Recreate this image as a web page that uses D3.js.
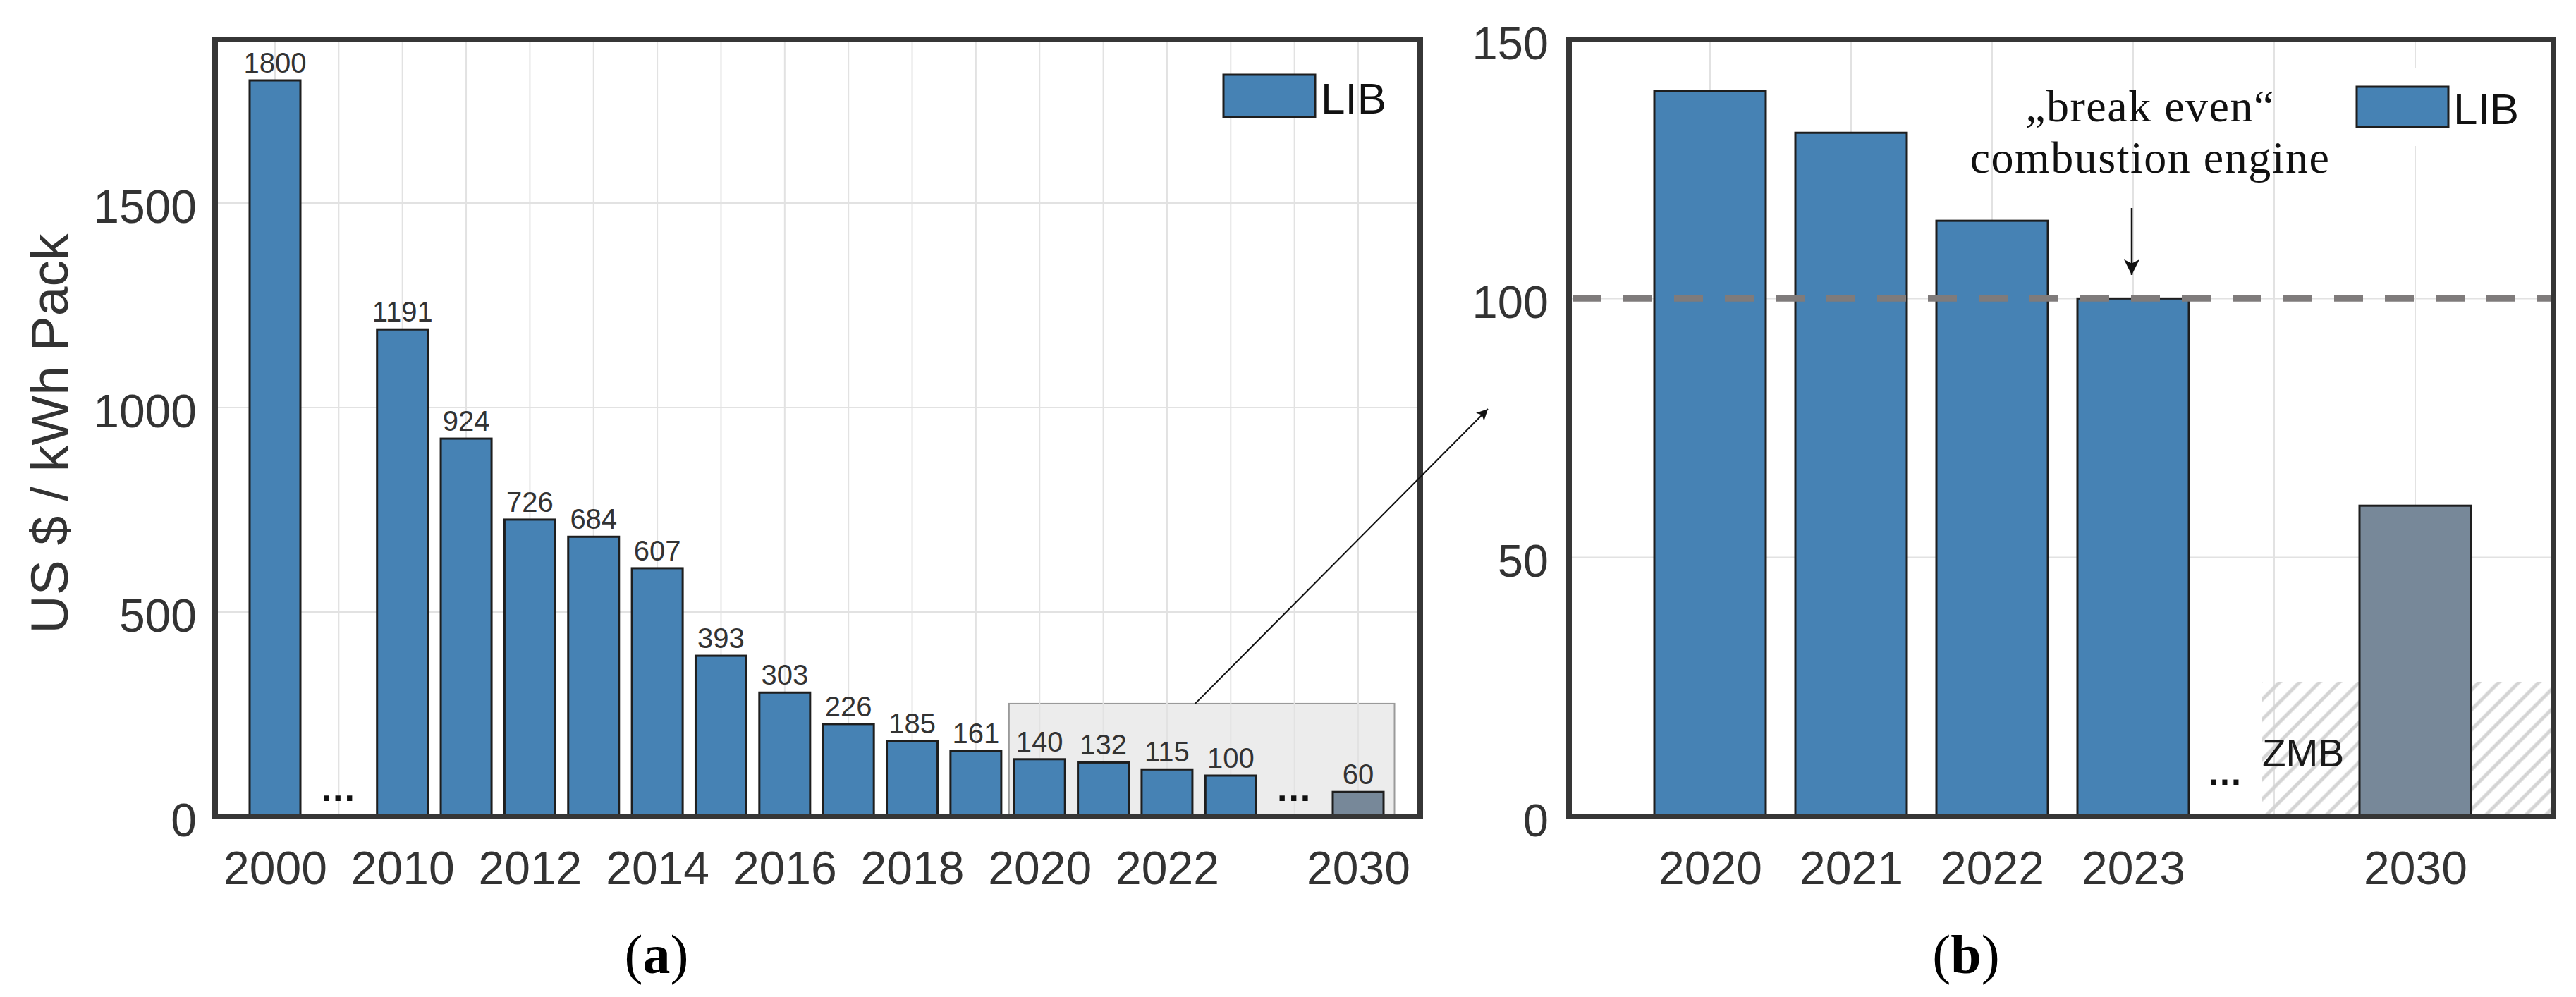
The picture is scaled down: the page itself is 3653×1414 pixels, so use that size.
<!DOCTYPE html>
<html>
<head>
<meta charset="utf-8">
<script src="https://cdn.jsdelivr.net/npm/d3@7"></script>
<style>
  html, body { margin: 0; padding: 0; background: #fff; }
  svg { display: block; }
</style>
</head>
<body>
<svg id="chart" width="3653" height="1414"></svg>
<script>
// ---------------- DATA ----------------
const leftCategories = ["2000", "gapA", "2010", "2011", "2012", "2013", "2014", "2015", "2016", "2017", "2018", "2019", "2020", "2021", "2022", "2023", "gapB", "2030"];
const leftValues     = [1800, null, 1191, 924, 726, 684, 607, 393, 303, 226, 185, 161, 140, 132, 115, 100, null, 60];
const leftTickLabels = ["2000", "2010", "2012", "2014", "2016", "2018", "2020", "2022", "2030"];
const leftYTicks     = [0, 500, 1000, 1500];
const leftYMax       = 1900;

const rightCategories = ["2020", "2021", "2022", "2023", "gap", "2030"];
const rightValues     = [140, 132, 115, 100, null, 60];
const rightTickLabels = ["2020", "2021", "2022", "2023", "2030"];
const rightYTicks     = [0, 50, 100, 150];
const rightYMax       = 150;

const projectedYears  = ["2030"];
const breakEvenValue  = 100;
const zoomBoxTop      = 276;   // left-panel highlight box height (value units)
const zmbTop          = 26;    // hatched ZMB band height (value units)
const seriesName      = "LIB";
const yTitle          = "US $ / kWh Pack";

// ---------------- STYLE / LAYOUT ----------------
const C = {
  bar: "#4682b4", proj: "#778899", stroke: "#1e1e1e", frame: "#363636",
  grid: "#e2e2e2", text: "#333333", dash: "#7f7b7b", hatch: "#d4d4d4"
};
const sans = "'Liberation Sans', Arial, Helvetica, sans-serif";
const serif = "'Liberation Serif', 'Times New Roman', serif";
const plotTop = 56, plotBottom = 1158;

const svg = d3.select("#chart");
const defs = svg.append("defs");

// hatch pattern
const pat = defs.append("pattern").attr("id", "hatch")
  .attr("patternUnits", "userSpaceOnUse").attr("width", 20).attr("height", 20)
  .attr("patternTransform", "rotate(45)");
pat.append("line").attr("x1", 10).attr("y1", 0).attr("x2", 10).attr("y2", 20)
  .attr("stroke", C.hatch).attr("stroke-width", 5);

function marker(id, w, h) {
  defs.append("marker").attr("id", id)
    .attr("viewBox", "0 0 10 10").attr("refX", 10).attr("refY", 5)
    .attr("markerUnits", "userSpaceOnUse")
    .attr("markerWidth", w).attr("markerHeight", h).attr("orient", "auto")
    .append("path").attr("d", "M0,0 L10,5 L0,10 L2.5,5 z").attr("fill", "#111");
}
marker("arrowSmall", 20, 16);
marker("arrowBig", 24, 22);

svg.append("rect").attr("width", 3653).attr("height", 1414).attr("fill", "#fff");

const intFmt = d3.format("d");

// ================= LEFT PANEL =================
const L = { x0: 305, x1: 2014 };
const xL = d3.scalePoint().domain(leftCategories).range([390, 1926]);
const yL = d3.scaleLinear().domain([0, leftYMax]).range([plotBottom, plotTop]);
const stepL = xL.step();
const bwL = 72;

const gL = svg.append("g");

// highlight box (drawn under grid)
gL.append("rect")
  .attr("x", xL("2020") - 0.48 * stepL)
  .attr("y", yL(zoomBoxTop))
  .attr("width", (xL("2030") + 0.57 * stepL) - (xL("2020") - 0.48 * stepL))
  .attr("height", yL(0) - yL(zoomBoxTop))
  .attr("fill", "#ececec").attr("stroke", "#9a9a9a").attr("stroke-width", 2);

// grid
gL.selectAll(".vg").data(leftCategories).enter().append("line")
  .attr("x1", d => xL(d)).attr("x2", d => xL(d)).attr("y1", plotTop).attr("y2", plotBottom)
  .attr("stroke", C.grid).attr("stroke-width", 2);
gL.selectAll(".hg").data(leftYTicks.filter(d => d > 0)).enter().append("line")
  .attr("x1", L.x0).attr("x2", L.x1).attr("y1", d => yL(d)).attr("y2", d => yL(d))
  .attr("stroke", C.grid).attr("stroke-width", 2);

// bars
const leftData = leftCategories.map((c, i) => ({ c, v: leftValues[i] })).filter(d => d.v != null);
gL.selectAll(".bar").data(leftData).enter().append("rect")
  .attr("x", d => xL(d.c) - bwL / 2).attr("width", bwL)
  .attr("y", d => yL(d.v)).attr("height", d => yL(0) - yL(d.v))
  .attr("fill", d => projectedYears.includes(d.c) ? C.proj : C.bar)
  .attr("stroke", C.stroke).attr("stroke-width", 3);

// value labels
gL.selectAll(".vl").data(leftData).enter().append("text")
  .attr("x", d => xL(d.c)).attr("y", d => yL(d.v) - 11)
  .attr("text-anchor", "middle").attr("font-family", sans).attr("font-size", 40)
  .attr("fill", C.text).text(d => d.v);

// gap dots
gL.selectAll(".dots").data(leftCategories.filter(c => c.startsWith("gap"))).enter().append("text")
  .attr("x", d => xL(d)).attr("y", 1136).attr("text-anchor", "middle")
  .attr("font-family", sans).attr("font-weight", "bold").attr("font-size", 52)
  .attr("letter-spacing", 2).attr("fill", "#111").text("...");

// frame
gL.append("rect").attr("x", L.x0).attr("y", plotTop).attr("width", L.x1 - L.x0).attr("height", plotBottom - plotTop)
  .attr("fill", "none").attr("stroke", C.frame).attr("stroke-width", 8);

// axes
const axL = gL.append("g").attr("transform", `translate(${L.x0 - 26},0)`)
  .call(d3.axisLeft(yL).tickValues(leftYTicks).tickFormat(intFmt).tickSize(0).tickPadding(0));
axL.select(".domain").remove();
axL.selectAll("text").attr("font-family", sans).attr("font-size", 66).attr("fill", C.text)
  .attr("dy", "0.42em");

const axLB = gL.append("g").attr("transform", `translate(0,${plotBottom})`)
  .call(d3.axisBottom(xL).tickValues(leftTickLabels).tickSize(0).tickPadding(0));
axLB.select(".domain").remove();
axLB.selectAll("text").attr("font-family", sans).attr("font-size", 66).attr("fill", C.text)
  .attr("dy", 0).attr("y", 96);

// y title
gL.append("text").attr("transform", "translate(96,615) rotate(-90)")
  .attr("text-anchor", "middle").attr("font-family", sans).attr("font-size", 75)
  .attr("fill", C.text).text(yTitle);

// legend
gL.append("rect").attr("x", 1735).attr("y", 106).attr("width", 130).attr("height", 60)
  .attr("fill", C.bar).attr("stroke", C.stroke).attr("stroke-width", 3);
gL.append("text").attr("x", 1873).attr("y", 161).attr("font-family", sans).attr("font-size", 62)
  .attr("fill", "#111").text(seriesName);

// (a)
const la = svg.append("text").attr("x", 931).attr("y", 1380).attr("text-anchor", "middle")
  .attr("font-family", serif).attr("font-size", 78).attr("fill", "#000");
la.append("tspan").text("(");
la.append("tspan").attr("font-weight", "bold").text("a");
la.append("tspan").text(")");

// ================= RIGHT PANEL =================
const R = { x0: 2225, x1: 3621 };
const xR = d3.scalePoint().domain(rightCategories).range([2425, 3425]);
const yR = d3.scaleLinear().domain([0, rightYMax]).range([plotBottom, plotTop]);
const stepR = xR.step();
const bwR = 158;

const gR = svg.append("g");

// grid
gR.selectAll(".vg").data(rightCategories).enter().append("line")
  .attr("x1", d => xR(d)).attr("x2", d => xR(d)).attr("y1", plotTop).attr("y2", plotBottom)
  .attr("stroke", C.grid).attr("stroke-width", 2);
gR.selectAll(".hg").data(rightYTicks.filter(d => d > 0 && d < rightYMax)).enter().append("line")
  .attr("x1", R.x0).attr("x2", R.x1).attr("y1", d => yR(d)).attr("y2", d => yR(d))
  .attr("stroke", C.grid).attr("stroke-width", 2.5);

// hatched ZMB band
const hx0 = xR("gap") - 0.085 * stepR;
gR.append("rect").attr("x", hx0).attr("y", yR(zmbTop))
  .attr("width", R.x1 - 4 - hx0).attr("height", yR(0) - yR(zmbTop))
  .attr("fill", "url(#hatch)");

// bars
const rightData = rightCategories.map((c, i) => ({ c, v: rightValues[i] })).filter(d => d.v != null);
gR.selectAll(".bar").data(rightData).enter().append("rect")
  .attr("x", d => xR(d.c) - bwR / 2).attr("width", bwR)
  .attr("y", d => yR(d.v)).attr("height", d => yR(0) - yR(d.v))
  .attr("fill", d => projectedYears.includes(d.c) ? C.proj : C.bar)
  .attr("stroke", C.stroke).attr("stroke-width", 3);

// ZMB label and dots
gR.append("text").attr("x", hx0).attr("y", 1087).attr("font-family", sans).attr("font-size", 55)
  .attr("fill", "#1a1a1a").text("ZMB");
gR.append("text").attr("x", xR("gap") - 69).attr("y", 1113).attr("text-anchor", "middle")
  .attr("font-family", sans).attr("font-weight", "bold").attr("font-size", 50)
  .attr("letter-spacing", 2).attr("fill", "#111").text("...");

// break-even dashed line
gR.append("line").attr("x1", R.x0 + 5).attr("x2", R.x1 + 3)
  .attr("y1", yR(breakEvenValue)).attr("y2", yR(breakEvenValue))
  .attr("stroke", C.dash).attr("stroke-width", 9).attr("stroke-dasharray", "41,31");

// frame
gR.append("rect").attr("x", R.x0).attr("y", plotTop).attr("width", R.x1 - R.x0).attr("height", plotBottom - plotTop)
  .attr("fill", "none").attr("stroke", C.frame).attr("stroke-width", 8);

// axes
const axR = gR.append("g").attr("transform", `translate(${R.x0 - 29},0)`)
  .call(d3.axisLeft(yR).tickValues(rightYTicks).tickFormat(intFmt).tickSize(0).tickPadding(0));
axR.select(".domain").remove();
axR.selectAll("text").attr("font-family", sans).attr("font-size", 65).attr("fill", C.text)
  .attr("dy", "0.42em");

const axRB = gR.append("g").attr("transform", `translate(0,${plotBottom})`)
  .call(d3.axisBottom(xR).tickValues(rightTickLabels).tickSize(0).tickPadding(0));
axRB.select(".domain").remove();
axRB.selectAll("text").attr("font-family", sans).attr("font-size", 66).attr("fill", C.text)
  .attr("dy", 0).attr("y", 96);

// legend (white background)
gR.append("rect").attr("x", 3330).attr("y", 97).attr("width", 255).attr("height", 110).attr("fill", "#fff");
gR.append("rect").attr("x", 3342).attr("y", 123).attr("width", 130).attr("height", 57)
  .attr("fill", C.bar).attr("stroke", C.stroke).attr("stroke-width", 3);
gR.append("text").attr("x", 3479).attr("y", 176).attr("font-family", sans).attr("font-size", 62)
  .attr("fill", "#111").text(seriesName);

// annotation
const ann = gR.append("text").attr("font-family", serif).attr("font-size", 64)
  .attr("letter-spacing", 1.5).attr("fill", "#111").attr("text-anchor", "middle");
ann.append("tspan").attr("x", xR("2023") + 24).attr("y", 172).text("\u201Ebreak even\u201C");
ann.append("tspan").attr("x", xR("2023") + 24).attr("y", 245).text("combustion engine");
gR.append("line").attr("x1", xR("2023") - 2).attr("x2", xR("2023") - 2)
  .attr("y1", 295).attr("y2", 390)
  .attr("stroke", "#111").attr("stroke-width", 2.5).attr("marker-end", "url(#arrowBig)");

// (b)
const lb = svg.append("text").attr("x", 2788).attr("y", 1380).attr("text-anchor", "middle")
  .attr("font-family", serif).attr("font-size", 78).attr("fill", "#000");
lb.append("tspan").text("(");
lb.append("tspan").attr("font-weight", "bold").text("b");
lb.append("tspan").text(")");

// zoom connector arrow (from left box to right panel)
svg.append("line")
  .attr("x1", xL("2022") + 40).attr("y1", yL(zoomBoxTop))
  .attr("x2", 2110).attr("y2", 580)
  .attr("stroke", "#111").attr("stroke-width", 2).attr("marker-end", "url(#arrowSmall)");
</script>
</body>
</html>
